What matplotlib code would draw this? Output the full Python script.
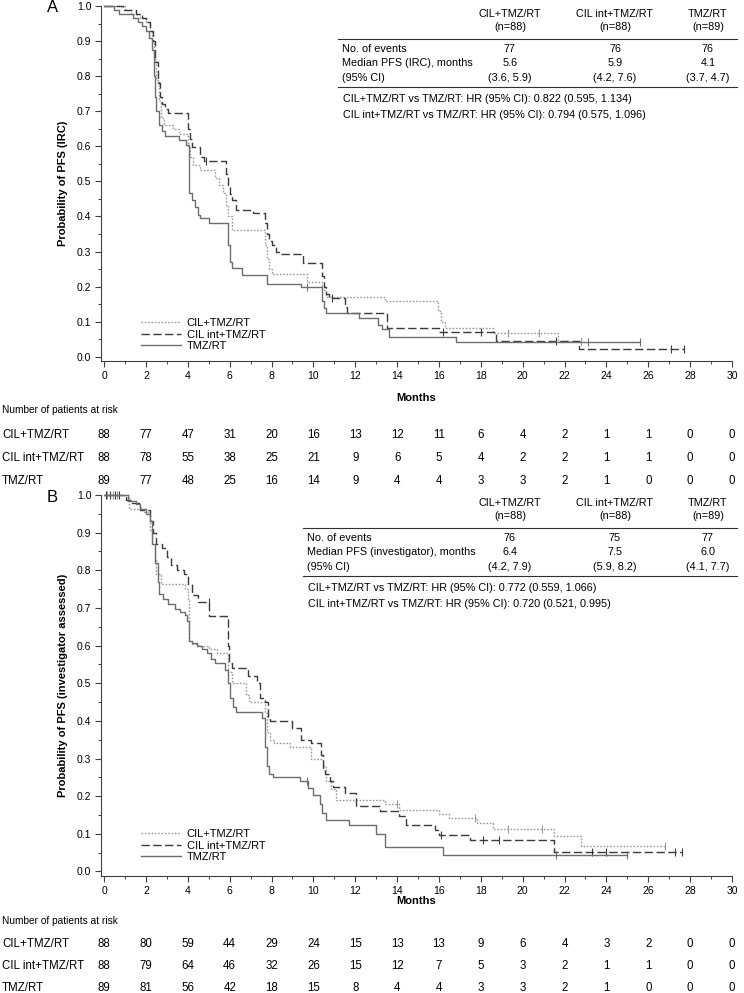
import matplotlib
matplotlib.use("Agg")
import matplotlib.pyplot as plt
from matplotlib.transforms import blended_transform_factory

plt.rcParams['font.family'] = ['Liberation Sans', 'DejaVu Sans']

W, H = 744, 993

arms = ["CIL+TMZ/RT", "CIL int+TMZ/RT", "TMZ/RT"]
arm_n = ["(n=88)", "(n=88)", "(n=89)"]
risk_months = list(range(0, 31, 2))

# ---- Panel A (IRC) ----
a_cil_t = [0, 1.0, 1.3, 1.7, 2.0, 2.2, 2.3, 2.4, 2.5, 2.6, 2.7, 2.85, 3.3, 3.6, 4.0, 4.1,
           4.25, 4.6, 5.3, 5.5, 5.7, 5.8, 5.9, 6.1, 7.7, 7.8, 7.9, 8.0, 9.7, 10.4, 10.6,
           13.4, 15.95, 16.1, 16.3, 18.6, 21.7]
a_cil_s = [1.0, 0.989, 0.977, 0.966, 0.955, 0.93, 0.90, 0.85, 0.79, 0.73, 0.68, 0.66, 0.648,
           0.636, 0.60, 0.57, 0.547, 0.532, 0.51, 0.49, 0.466, 0.43, 0.40, 0.361, 0.32, 0.28,
           0.25, 0.235, 0.214, 0.19, 0.171, 0.159, 0.13, 0.10, 0.081, 0.068, 0.045]
a_cil_end = 22.8
a_cil_cens = [19.3, 20.8, 22.8]

a_int_t = [0, 0.9, 1.5, 1.8, 2.0, 2.2, 2.35, 2.45, 2.55, 2.65, 2.75, 2.9, 3.05, 4.0, 4.1,
           4.2, 4.6, 4.75, 5.8, 5.9, 6.0, 6.1, 6.3, 7.1, 7.7, 7.8, 7.9, 8.0, 8.2, 8.4, 9.5,
           10.4, 10.5, 10.6, 10.75, 11.5, 11.6, 13.5, 16.0, 18.7, 22.7]
a_int_s = [1.0, 0.989, 0.977, 0.966, 0.955, 0.93, 0.90, 0.84, 0.78, 0.74, 0.72, 0.705, 0.696,
           0.65, 0.62, 0.599, 0.57, 0.557, 0.52, 0.49, 0.465, 0.447, 0.418, 0.409, 0.38, 0.35,
           0.33, 0.318, 0.30, 0.293, 0.268, 0.23, 0.20, 0.18, 0.167, 0.143, 0.125, 0.083,
           0.07, 0.046, 0.022]
a_int_end = 27.7
a_int_cens = [4.85, 10.9, 16.2, 18.0, 21.6, 27.1, 27.7]

a_tmz_t = [0, 0.45, 0.7, 1.4, 1.6, 1.8, 2.0, 2.15, 2.3, 2.4, 2.45, 2.5, 2.6, 2.75, 2.9, 3.6,
           3.9, 4.05, 4.2, 4.35, 4.5, 4.6, 5.0, 5.9, 6.0, 6.1, 6.6, 7.8, 9.4, 10.4, 10.5,
           10.6, 12.2, 13.1, 13.3, 13.6, 16.8]
a_tmz_s = [1.0, 0.989, 0.978, 0.966, 0.955, 0.944, 0.93, 0.91, 0.875, 0.80, 0.74, 0.70,
           0.66, 0.645, 0.63, 0.617, 0.604, 0.467, 0.447, 0.427, 0.404, 0.395, 0.382, 0.32,
           0.27, 0.252, 0.233, 0.207, 0.198, 0.16, 0.14, 0.125, 0.111, 0.09, 0.08, 0.057,
           0.043]
a_tmz_end = 25.6
a_tmz_cens = [9.7, 23.1, 25.6]

a_events = ["77", "76", "76"]
a_median = ["5.6", "5.9", "4.1"]
a_ci = ["(3.6, 5.9)", "(4.2, 7.6)", "(3.7, 4.7)"]
a_hr = ["CIL+TMZ/RT vs TMZ/RT: HR (95% CI): 0.822 (0.595, 1.134)",
        "CIL int+TMZ/RT vs TMZ/RT: HR (95% CI): 0.794 (0.575, 1.096)"]
a_risk_cil = [88, 77, 47, 31, 20, 16, 13, 12, 11, 6, 4, 2, 1, 1, 0, 0]
a_risk_int = [88, 78, 55, 38, 25, 21, 9, 6, 5, 4, 2, 2, 1, 1, 0, 0]
a_risk_tmz = [89, 77, 48, 25, 16, 14, 9, 4, 4, 3, 3, 2, 1, 0, 0, 0]

# ---- Panel B (investigator) ----
b_cil_t = [0, 1.2, 1.9, 2.2, 2.3, 2.43, 2.5, 2.7, 3.85, 4.0, 4.05, 4.2, 4.5, 5.0, 5.4, 5.93,
           6.09, 6.8, 6.9, 7.68, 7.76, 7.92, 8.1, 8.9, 9.9, 10.46, 10.6, 10.85, 11.1, 13.4,
           14.1, 16.0, 16.5, 17.8, 18.6, 21.5, 22.8]
b_cil_s = [1.0, 0.964, 0.955, 0.907, 0.87, 0.83, 0.79, 0.764, 0.75, 0.72, 0.613, 0.605, 0.60,
           0.59, 0.58, 0.53, 0.50, 0.47, 0.449, 0.42, 0.37, 0.35, 0.34, 0.33, 0.30, 0.28,
           0.24, 0.22, 0.19, 0.178, 0.164, 0.152, 0.142, 0.128, 0.114, 0.095, 0.068]
b_cil_end = 26.8
b_cil_cens = [0.15, 0.4, 0.6, 14.0, 17.7, 19.3, 20.9, 26.8]

b_int_t = [0, 1.05, 1.35, 1.7, 2.2, 2.35, 2.5, 2.75, 3.0, 3.2, 3.5, 3.8, 4.0, 4.2, 4.5, 5.02,
           5.9, 5.95, 6.1, 6.88, 7.3, 7.45, 7.68, 7.84, 7.92, 9.0, 9.43, 9.9, 10.38, 10.45,
           10.54, 10.78, 10.94, 11.5, 12.05, 13.2, 14.1, 14.4, 15.8, 16.0, 17.5, 21.5]
b_int_s = [1.0, 0.988, 0.98, 0.96, 0.93, 0.90, 0.87, 0.86, 0.835, 0.815, 0.80, 0.79, 0.763,
           0.735, 0.716, 0.679, 0.60, 0.555, 0.54, 0.52, 0.50, 0.46, 0.45, 0.41, 0.40, 0.38,
           0.35, 0.34, 0.31, 0.27, 0.26, 0.24, 0.225, 0.208, 0.174, 0.161, 0.147, 0.123,
           0.109, 0.097, 0.083, 0.052]
b_int_end = 27.6
b_int_cens = [0.1, 0.3, 0.5, 0.7, 5.0, 16.1, 18.1, 18.85, 23.3, 24.0, 27.3, 27.6]

b_tmz_t = [0, 1.15, 1.5, 1.7, 2.0, 2.2, 2.3, 2.43, 2.55, 2.64, 2.83, 3.07, 3.39, 3.62, 3.86,
           3.97, 4.07, 4.2, 4.42, 4.66, 4.9, 5.1, 5.3, 5.77, 5.93, 6.0, 6.17, 6.3, 7.55, 7.7,
           7.8, 7.9, 8.05, 9.35, 9.75, 10.0, 10.3, 10.4, 10.6, 11.7, 13.0, 13.4, 16.2]
b_tmz_s = [1.0, 0.985, 0.975, 0.964, 0.95, 0.93, 0.87, 0.82, 0.77, 0.736, 0.725, 0.71, 0.698,
           0.69, 0.68, 0.665, 0.613, 0.608, 0.598, 0.59, 0.58, 0.565, 0.553, 0.536, 0.50,
           0.46, 0.437, 0.423, 0.408, 0.33, 0.28, 0.26, 0.25, 0.24, 0.223, 0.204, 0.18, 0.156,
           0.138, 0.123, 0.099, 0.066, 0.045]
b_tmz_end = 25.0
b_tmz_cens = [9.67, 21.6, 25.0]

b_events = ["76", "75", "77"]
b_median = ["6.4", "7.5", "6.0"]
b_ci = ["(4.2, 7.9)", "(5.9, 8.2)", "(4.1, 7.7)"]
b_hr = ["CIL+TMZ/RT vs TMZ/RT: HR (95% CI): 0.772 (0.559, 1.066)",
        "CIL int+TMZ/RT vs TMZ/RT: HR (95% CI): 0.720 (0.521, 0.995)"]
b_risk_cil = [88, 80, 59, 44, 29, 24, 15, 13, 13, 9, 6, 4, 3, 2, 0, 0]
b_risk_int = [88, 79, 64, 46, 32, 26, 15, 12, 7, 5, 3, 2, 1, 1, 0, 0]
b_risk_tmz = [89, 81, 56, 42, 18, 15, 8, 4, 4, 3, 3, 2, 1, 0, 0, 0]

styles = [dict(color="#9a9a9a", lw=1.0, linestyle=(0, (1.2, 1.2))),
          dict(color="#3a3a3a", lw=1.0, linestyle=(0, (6, 2.5))),
          dict(color="#6e6e6e", lw=1.0, linestyle="-")]
narrow = ["Liberation Sans Narrow", "Liberation Sans"]


def fx(px):
    return px / W


def fy(py):
    return 1 - py / H


def km(ax, t, s, end, cens, st):
    line, = ax.step(t + [end], s + [s[-1]], where="post", clip_on=False, **st)
    cs = []
    for c in cens:
        v = s[0]
        for ti, si in zip(t, s):
            if ti <= c:
                v = si
        cs.append(v)
    ax.plot(cens, cs, linestyle="none", marker="|", ms=6, mew=0.8, color=st["color"],
            clip_on=False)
    return line


def panel(top, bottom, letter, ylabel, curves, tab, risk, tab_left, label_row, legend_y,
          risk_y, xpad):
    ax = fig.add_axes([fx(101), fy(bottom), fx(732) - fx(101), fy(top) - fy(bottom)])
    handles = []
    for (t, s, end, cens), st in zip(curves, styles):
        handles.append(km(ax, t, s, end, cens, st))
    ax.set_xlim(-0.15, 30)
    ax.set_ylim(-0.012, 1.0)
    ax.set_xticks(range(0, 31, 2))
    ax.set_xticks(range(1, 30, 2), minor=True)
    ax.set_yticks([i / 10 for i in range(11)])
    ax.set_yticklabels(["%.1f" % (i / 10) for i in range(11)])
    ax.set_yticks([i / 10 + 0.05 for i in range(10)], minor=True)
    for sp in ["top", "right"]:
        ax.spines[sp].set_visible(False)
    for sp in ["left", "bottom"]:
        ax.spines[sp].set_color("#404040")
        ax.spines[sp].set_linewidth(0.8)
    ax.tick_params(which="major", direction="out", length=4, width=0.8, color="#404040",
                   labelsize=7.5, pad=3)
    ax.tick_params(which="minor", direction="out", length=2.5, width=0.7, color="#404040")
    ax.set_ylabel(ylabel, fontsize=8, fontweight="bold", labelpad=6)
    ax.set_xlabel("Months", fontsize=8, fontweight="bold", labelpad=xpad)
    fig.text(fx(47), fy(top + 2), letter, fontsize=12, ha="left", va="center")

    ax.legend(handles, arms, loc="upper left", bbox_to_anchor=(fx(141), fy(legend_y)),
              bbox_transform=fig.transFigure, frameon=False, fontsize=8, handlelength=3.6,
              handletextpad=0.5, labelspacing=0.15, borderpad=0, borderaxespad=0)

    # summary table
    events, median, ci, hr = tab
    cols = [510, 615, 708]
    fs = 7.8
    for x, a, n in zip(cols, arms, arm_n):
        fig.text(fx(x), fy(top + 8), a, ha="center", va="center", fontsize=fs)
        fig.text(fx(x), fy(top + 21), n, ha="center", va="center", fontsize=fs)
    fig.add_artist(plt.Line2D([fx(tab_left - 4), fx(737)], [fy(top + 33)] * 2,
                              color="#303030", lw=0.8))
    fig.add_artist(plt.Line2D([fx(tab_left - 4), fx(737)], [fy(top + 81)] * 2,
                              color="#303030", lw=0.8))
    for dy, lab, vals in [(43, "No. of events", events), (57, label_row, median),
                          (72, "(95% CI)", ci)]:
        fig.text(fx(tab_left), fy(top + dy), lab, ha="left", va="center", fontsize=fs)
        for x, v in zip(cols, vals):
            fig.text(fx(x), fy(top + dy), v, ha="center", va="center", fontsize=fs)
    for dy, line in zip([93, 109], hr):
        fig.text(fx(tab_left + 1), fy(top + dy), line, ha="left", va="center", fontsize=fs)

    # at-risk table
    trans = blended_transform_factory(ax.transData, fig.transFigure)
    fig.text(fx(2), fy(risk_y[0]), "Number of patients at risk", ha="left", va="center",
             fontsize=7.3, family=narrow)
    for name, vals, py in zip(arms, risk, risk_y[1:]):
        fig.text(fx(2), fy(py), name, ha="left", va="center", fontsize=8.3, family=narrow)
        for m, v in zip(risk_months, vals):
            ax.text(m, fy(py), str(v), transform=trans, ha="center", va="center",
                    fontsize=8.3, family=narrow)
    return ax


fig = plt.figure(figsize=(W / 100, H / 100), dpi=100)

panel(6, 361, "A", "Probability of PFS (IRC)",
      [(a_cil_t, a_cil_s, a_cil_end, a_cil_cens),
       (a_int_t, a_int_s, a_int_end, a_int_cens),
       (a_tmz_t, a_tmz_s, a_tmz_end, a_tmz_cens)],
      (a_events, a_median, a_ci, a_hr),
      [a_risk_cil, a_risk_int, a_risk_tmz],
      342, "Median PFS (IRC), months", 318, [410, 435, 458, 481], 9)

panel(495, 876, "B", "Probability of PFS (investigator assessed)",
      [(b_cil_t, b_cil_s, b_cil_end, b_cil_cens),
       (b_int_t, b_int_s, b_int_end, b_int_cens),
       (b_tmz_t, b_tmz_s, b_tmz_end, b_tmz_cens)],
      (b_events, b_median, b_ci, b_hr),
      [b_risk_cil, b_risk_int, b_risk_tmz],
      307, "Median PFS (investigator), months", 829, [921, 944, 966, 988], 0.5)

fig.savefig("out.png", dpi=100)
